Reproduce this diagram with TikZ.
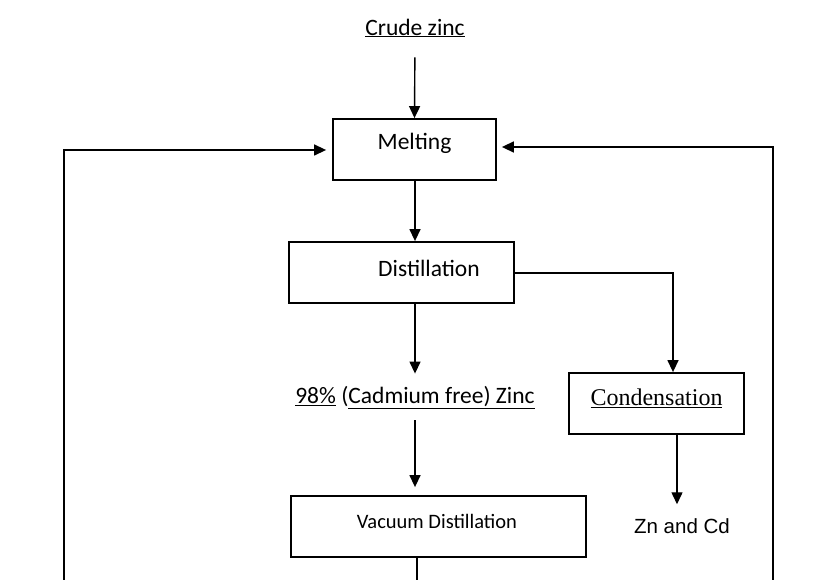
\documentclass[tikz,border=0pt]{standalone}
\usepackage{fontspec}
\setmainfont{Carlito}
\newfontfamily\timesfont{Liberation Serif}
\newfontfamily\arialfont{Liberation Sans}
\usepackage{tikz}
\usetikzlibrary{positioning,arrows.meta,calc}

\tikzset{
  box/.style={draw, line width=1.8pt, minimum height=61pt, inner sep=0pt},
  txt/.style={inner sep=0pt, font=\fontsize{23.5}{28}\selectfont},
  flow/.style={line width=1.4pt}
}

\begin{document}
\begin{tikzpicture}[x=1pt, y=-1pt, ->, >={Triangle[length=12pt,width=11pt]}]
		\useasboundingbox (0,0) rectangle (836,580);

		% nodes
		\node[txt](crude) at (415,28) {\underline{Crude zinc}};
		\node[box, minimum width=163pt, label={[txt, yshift=6pt]center:Melting}](melt) at (414.5,149.5) {};
		\node[box, minimum width=225pt, label={[txt, xshift=27.5pt, yshift=4.5pt]center:Distillation}](dist) at (401.5,272.5) {};
		\node[txt](zinc) at (415,398) {\underline{98\%} (\underline{Cadmium free) Zinc}};
		\node[box, minimum width=175pt, label={[txt, font=\timesfont\fontsize{24}{28}\selectfont, yshift=5.5pt]center:\underline{Condensation}}](cond) at (656.5,403.5) {};
		\node[txt](zncd) at (682,526) {\arialfont\fontsize{20.5}{24}\selectfont Zn and Cd};
		\node[box, minimum width=295pt, label={[txt, font=\fontsize{20.5}{24}\selectfont, xshift=-1.5pt, yshift=5.5pt]center:Vacuum Distillation}](vac) at (438.5,526.5) {};

		\coordinate (lfoot) at (64,580);
		\coordinate (rfoot) at (773,580);
		\coordinate (vfoot) at (417,580);

		% connectors
		\draw[flow, shorten <=20pt] (crude.south) -- (melt.north);
		\draw[flow] (crude |- melt.south) -- (crude |- dist.north);
		\draw[flow, shorten >=13pt] (zinc |- dist.south) -- (zinc.north);
		\draw[flow, shorten <=11pt, shorten >=8pt] (zinc.south) -- (zinc |- vac.north);
		\draw[flow] ($(dist.east)+(0,0.5)$) -| ([xshift=16.5pt]cond.north);
		\draw[flow, shorten >=14pt] ([xshift=20.5pt]cond.south) -- ([xshift=20.5pt]cond.south |- zncd.north);
		\draw[flow, -] ([xshift=-21.5pt]vac.south) -- ([xshift=-21.5pt]vac.south |- vfoot);
		\draw[flow, shorten >=6pt] (lfoot) |- ($(melt.west)+(0,0.5)$);
		\draw[flow, line width=1.5pt, shorten >=5pt] (rfoot) |- ($(melt.east)+(0,-2.5)$);
	\end{tikzpicture}
\end{document}
